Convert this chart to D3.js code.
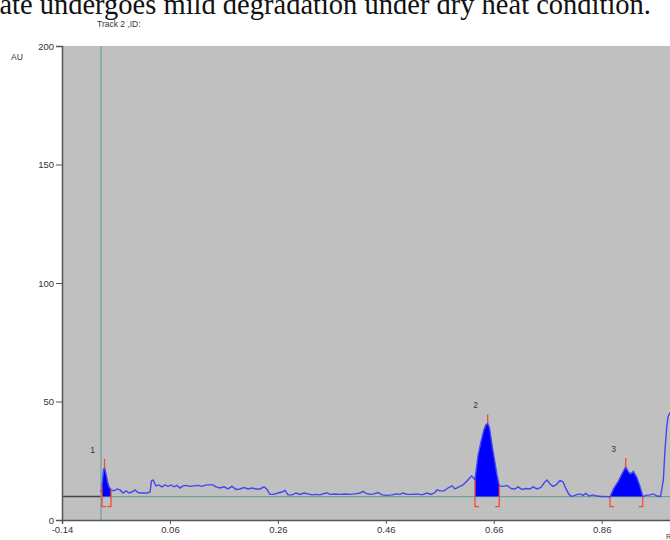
<!DOCTYPE html>
<html>
<head>
<meta charset="utf-8">
<script src="https://cdn.jsdelivr.net/npm/d3@7"></script>
<style>
  body { margin: 0; background: #fff; }
  svg { display: block; }
</style>
</head>
<body>
<svg id="chart" width="670" height="540"></svg>
<script>
// densitogram trace (Rf, AU)
const rf = [-0.0677, -0.0659, -0.0631, -0.0612, -0.0585, -0.0557, -0.0529, -0.0492, -0.0436, -0.0381,
  -0.0325, -0.0270, -0.0214, -0.0158, -0.0103, -0.0047, 0.0008, 0.0064, 0.0119, 0.0175,
  0.0231, 0.0258, 0.0286, 0.0342, 0.0397, 0.0453, 0.0509, 0.0564, 0.0620, 0.0675,
  0.0731, 0.0787, 0.0842, 0.0898, 0.0972, 0.1046, 0.1120, 0.1194, 0.1269, 0.1343,
  0.1398, 0.1454, 0.1528, 0.1602, 0.1676, 0.1750, 0.1824, 0.1898, 0.1973, 0.2047,
  0.2121, 0.2195, 0.2269, 0.2343, 0.2399, 0.2454, 0.2528, 0.2603, 0.2677, 0.2732,
  0.2788, 0.2862, 0.2936, 0.3010, 0.3085, 0.3159, 0.3233, 0.3307, 0.3381, 0.3455,
  0.3511, 0.3566, 0.3659, 0.3751, 0.3844, 0.3937, 0.4029, 0.4122, 0.4178, 0.4233,
  0.4307, 0.4381, 0.4455, 0.4529, 0.4622, 0.4715, 0.4789, 0.4863, 0.4918, 0.4992,
  0.5085, 0.5178, 0.5270, 0.5363, 0.5437, 0.5511, 0.5548, 0.5604, 0.5678, 0.5752,
  0.5826, 0.5882, 0.5956, 0.6030, 0.6104, 0.6188, 0.6225, 0.6252, 0.6308, 0.6363,
  0.6419, 0.6456, 0.6487, 0.6521, 0.6567, 0.6623, 0.6660, 0.6702, 0.6771, 0.6845,
  0.6919, 0.6993, 0.7049, 0.7123, 0.7197, 0.7271, 0.7327, 0.7401, 0.7475, 0.7530,
  0.7586, 0.7642, 0.7697, 0.7753, 0.7827, 0.7882, 0.7938, 0.7994, 0.8050, 0.8124,
  0.8198, 0.8253, 0.8309, 0.8365, 0.8439, 0.8513, 0.8587, 0.8680, 0.8754, 0.8815,
  0.8865, 0.8908, 0.8958, 0.9001, 0.9045, 0.9093, 0.9138, 0.9186, 0.9249, 0.9310,
  0.9360, 0.9421, 0.9495, 0.9557, 0.9625, 0.9690, 0.9742, 0.9773, 0.9805, 0.9829,
  0.9866, 0.9940]
const au = [11.8, 14.0, 21.1, 22.0, 19.5, 16.1, 14.0, 12.7, 12.3, 13.1,
  12.7, 11.4, 12.3, 11.4, 11.8, 12.7, 11.6, 11.4, 11.4, 11.4,
  11.8, 16.5, 16.9, 14.4, 14.8, 14.0, 14.8, 14.2, 14.8, 14.0,
  14.6, 13.5, 14.4, 14.6, 14.2, 14.4, 14.6, 14.2, 14.8, 14.8,
  14.8, 14.0, 13.5, 14.0, 13.1, 14.2, 12.9, 13.1, 13.7, 13.1,
  13.5, 13.1, 13.1, 14.0, 12.9, 10.8, 10.8, 11.4, 11.8, 12.5,
  10.6, 10.6, 11.4, 10.8, 11.4, 11.0, 10.6, 10.8, 10.6, 11.2,
  11.4, 10.8, 11.0, 10.8, 11.0, 10.8, 11.0, 11.4, 12.1, 11.2,
  10.8, 11.0, 11.6, 10.6, 10.4, 10.6, 11.0, 10.8, 11.4, 10.8,
  10.8, 11.0, 10.6, 11.4, 10.8, 11.6, 12.7, 12.3, 12.3, 13.5,
  14.4, 13.1, 14.0, 14.8, 16.5, 18.6, 17.8, 16.9, 27.1, 33.0,
  38.1, 40.2, 40.8, 38.9, 31.7, 24.1, 19.0, 14.4, 14.2, 14.6,
  13.3, 13.1, 14.0, 12.9, 13.3, 13.1, 14.0, 13.1, 13.7, 15.6,
  16.9, 15.2, 14.2, 14.8, 16.7, 16.1, 13.1, 10.8, 9.9, 10.6,
  11.0, 10.4, 11.2, 10.1, 10.6, 10.1, 9.9, 9.9, 9.7, 12.9,
  14.8, 16.3, 18.6, 20.5, 22.4, 20.3, 19.5, 20.5, 18.0, 14.2,
  9.9, 10.4, 10.6, 11.0, 10.1, 9.9, 16.9, 29.6, 39.3, 43.6,
  45.2, 47.4]

// integrated peaks
const peakIds = ['1', '2', '3']
const peakStart = [-0.0659, 0.6252, 0.8754]
const peakEnd = [-0.0492, 0.6702, 0.9360]

const baseline = 9.9
const startRf = -0.0677
const xTicks = [-0.14, 0.06, 0.26, 0.46, 0.66, 0.86]
const xTickLabels = ['-0.14', '0.06', '0.26', '0.46', '0.66', '0.86']
const yTicks = [0, 50, 100, 150, 200]

const svg = d3.select('#chart')
const plotLeft = 62
const plotTop = 46
const plotBottom = 520
const traceColor = '#4545f2'
const fillColor = '#0000ff'
const red = '#f24a3c'
const teal = '#6ea3a0'
const axisColor = '#555'
const labelFont = 'Liberation Sans, Arial, sans-serif'

const points = rf.map((r, i) => ({ rf: r, au: au[i] }))

const xScale = d3.scaleLinear()
  .domain([-0.14, 1.0])
  .range([plotLeft, plotLeft + 1.14 * 539.7])

const yScale = d3.scaleLinear()
  .domain([0, 200])
  .range([plotBottom, plotTop])

// caption line cut off at the top of the crop
svg.append('text')
  .attr('x', 651)
  .attr('y', 14)
  .attr('text-anchor', 'end')
  .style('font-family', 'Liberation Serif, Times New Roman, serif')
  .style('font-size', '28.5px')
  .style('fill', '#111')
  .text('ate undergoes mild degradation under dry heat condition.')

svg.append('text')
  .attr('x', 97)
  .attr('y', 27)
  .style('font-family', labelFont)
  .style('font-size', '8.5px')
  .style('fill', '#333')
  .text('Track  2 ,ID:')

svg.append('text')
  .attr('x', 11)
  .attr('y', 60)
  .style('font-family', labelFont)
  .style('font-size', '8.5px')
  .style('fill', '#333')
  .text('AU')

// plot background
svg.append('rect')
  .attr('x', plotLeft)
  .attr('y', plotTop)
  .attr('width', 700 - plotLeft)
  .attr('height', plotBottom - plotTop)
  .attr('fill', '#c0c0c0')

// baseline: dark before start line, teal after
svg.append('line')
  .attr('x1', xScale(-0.14)).attr('x2', xScale(startRf))
  .attr('y1', yScale(baseline)).attr('y2', yScale(baseline))
  .style('stroke', '#444')
  .style('stroke-width', 1.5)

svg.append('line')
  .attr('x1', xScale(startRf)).attr('x2', 700)
  .attr('y1', yScale(baseline)).attr('y2', yScale(baseline))
  .style('stroke', teal)
  .style('stroke-width', 1.3)

svg.append('line')
  .attr('x1', xScale(startRf)).attr('x2', xScale(startRf))
  .attr('y1', plotTop).attr('y2', plotBottom)
  .style('stroke', teal)
  .style('stroke-width', 1.3)

// filled peak areas
const area = d3.area()
  .x(d => xScale(d.rf))
  .y0(yScale(baseline))
  .y1(d => yScale(d.au))

peakIds.forEach((id, i) => {
  const seg = points.filter(d => d.rf >= peakStart[i] - 1e-6 && d.rf <= peakEnd[i] + 1e-6)
  svg.append('path')
    .datum(seg)
    .attr('d', area)
    .attr('fill', fillColor)
})

// trace
const line = d3.line()
  .x(d => xScale(d.rf))
  .y(d => yScale(d.au))

svg.append('path')
  .datum(points)
  .attr('d', line)
  .attr('fill', 'none')
  .style('stroke', traceColor)
  .style('stroke-width', 1.4)

// brackets, peak markers and numbers
peakIds.forEach((id, i) => {
  const seg = points.filter(d => d.rf >= peakStart[i] - 1e-6 && d.rf <= peakEnd[i] + 1e-6)
  const first = seg[0]
  const last = seg[seg.length - 1]
  const peak = seg.reduce((a, b) => (b.au > a.au ? b : a))
  const yb = yScale(baseline) + 10

  svg.append('path')
    .attr('d', `M ${xScale(first.rf) + 4} ${yb} H ${xScale(first.rf)} V ${yScale(first.au)}`)
    .attr('fill', 'none')
    .style('stroke', red)
    .style('stroke-width', 1.3)

  svg.append('path')
    .attr('d', `M ${xScale(last.rf) - 4} ${yb} H ${xScale(last.rf)} V ${yScale(last.au)}`)
    .attr('fill', 'none')
    .style('stroke', red)
    .style('stroke-width', 1.3)

  svg.append('line')
    .attr('x1', xScale(peak.rf)).attr('x2', xScale(peak.rf))
    .attr('y1', yScale(peak.au) - 9).attr('y2', yScale(peak.au))
    .style('stroke', red)
    .style('stroke-width', 1.3)

  svg.append('text')
    .attr('x', xScale(peak.rf) - 12)
    .attr('y', yScale(peak.au) - 15)
    .attr('text-anchor', 'middle')
    .style('font-family', labelFont)
    .style('font-size', '8.5px')
    .style('fill', '#333')
    .text(id)
})

// axes
const yAxis = d3.axisLeft(yScale)
  .tickValues(yTicks)
  .tickSize(6)
  .tickPadding(2)

const xAxis = d3.axisBottom(xScale)
  .tickValues(xTicks)
  .tickFormat((d, i) => xTickLabels[i])
  .tickSize(4)
  .tickPadding(2)

svg.append('g')
  .attr('transform', `translate(${plotLeft}, 0)`)
  .call(yAxis)

svg.append('g')
  .attr('transform', `translate(0, ${plotBottom})`)
  .call(xAxis)

svg.selectAll('path.domain')
  .style('stroke', axisColor)
  .style('stroke-width', 1.5)

svg.selectAll('.tick line')
  .style('stroke', axisColor)

svg.selectAll('.tick text')
  .style('font-family', labelFont)
  .style('font-size', '9.5px')
  .style('fill', '#333')

svg.append('text')
  .attr('x', 666)
  .attr('y', 539)
  .style('font-family', labelFont)
  .style('font-size', '7px')
  .style('fill', '#333')
  .text('Rf')
</script>
</body>
</html>
